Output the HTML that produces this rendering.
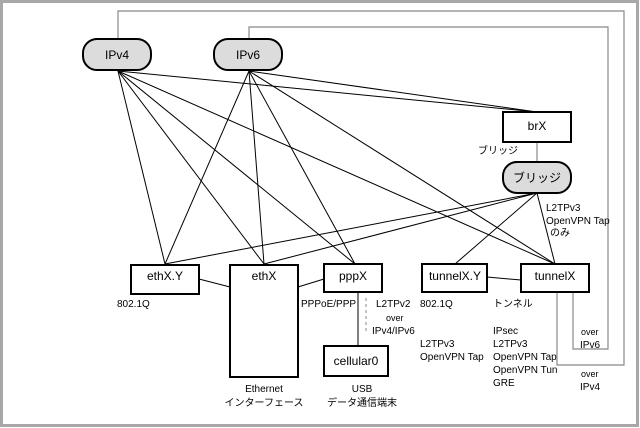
<!DOCTYPE html>
<html><head><meta charset="utf-8"><style>
html,body{margin:0;padding:0;background:#fff}
svg{display:block}
text{font-family:"Liberation Sans","Noto Sans CJK JP",sans-serif;fill:#000}
</style></head><body>
<svg width="640" height="428" viewBox="0 0 640 428" xmlns="http://www.w3.org/2000/svg">
<rect x="0" y="0" width="640" height="428" fill="#fff"/>
<rect x="1.5" y="1.5" width="636" height="424" fill="none" stroke="#a8a8a8" stroke-width="3"/>
<g fill="none" stroke="#888" stroke-width="1.2">
<polyline points="118,39 118,11 624,11 624,365 557,365 557,292"/>
<polyline points="249,39 249,27 608,27 608,349 573,349 573,292"/>
<line x1="537" y1="142" x2="537" y2="162"/>
</g>
<g stroke="#000" stroke-width="1" fill="none">
<line x1="118" y1="71" x2="537" y2="112"/>
<line x1="249" y1="71" x2="537" y2="112"/>
<line x1="118" y1="71" x2="165" y2="264"/>
<line x1="118" y1="71" x2="264" y2="264"/>
<line x1="118" y1="71" x2="355" y2="264"/>
<line x1="118" y1="71" x2="555" y2="264"/>
<line x1="249" y1="71" x2="165" y2="264"/>
<line x1="249" y1="71" x2="264" y2="264"/>
<line x1="249" y1="71" x2="355" y2="264"/>
<line x1="249" y1="71" x2="555" y2="264"/>
<line x1="537" y1="193" x2="165" y2="264"/>
<line x1="537" y1="193" x2="264" y2="264"/>
<line x1="537" y1="193" x2="455" y2="264"/>
<line x1="537" y1="193" x2="555" y2="264"/>
<line x1="199" y1="279" x2="230" y2="287"/>
<line x1="298" y1="287" x2="324" y2="279"/>
<line x1="487" y1="277" x2="521" y2="280"/>
<line x1="358" y1="291" x2="358" y2="346"/>
</g>
<line x1="366" y1="298" x2="366" y2="331" stroke="#888" stroke-width="1" stroke-dasharray="3,3"/>
<g stroke="#000" stroke-width="2" fill="#dcdcdc">
<rect x="83" y="39" width="68" height="31" rx="14"/>
<rect x="214" y="39" width="68" height="31" rx="14"/>
<rect x="503" y="162" width="68" height="31" rx="14"/>
</g>
<g stroke="#000" stroke-width="2" fill="#fff">
<rect x="503" y="112" width="68" height="30"/>
<rect x="131" y="265" width="68" height="29"/>
<rect x="230" y="265" width="68" height="112"/>
<rect x="324" y="264" width="58" height="28"/>
<rect x="324" y="346" width="64" height="30"/>
<rect x="422" y="264" width="65" height="28"/>
<rect x="521" y="264" width="68" height="28"/>
</g>
<g font-size="12" text-anchor="middle">
<text x="117" y="59">IPv4</text>
<text x="248" y="59">IPv6</text>
<text x="537" y="130">brX</text>
<text x="537" y="182">ブリッジ</text>
<text x="165" y="280">ethX.Y</text>
<text x="264" y="280">ethX</text>
<text x="353" y="280">pppX</text>
<text x="356" y="365">cellular0</text>
<text x="455" y="280">tunnelX.Y</text>
<text x="555" y="280">tunnelX</text>
</g>
<g font-size="10">
<text x="478" y="154">ブリッジ</text>
<text x="546" y="211">L2TPv3</text>
<text x="546" y="224">OpenVPN Tap</text>
<text x="550" y="236">のみ</text>
<text x="117" y="307">802.1Q</text>
<text x="301" y="307">PPPoE/PPP</text>
<text x="376" y="307">L2TPv2</text>
<text x="386" y="321" font-size="9">over</text>
<text x="372" y="334">IPv4/IPv6</text>
<text x="420" y="307">802.1Q</text>
<text x="493" y="307">トンネル</text>
<text x="420" y="347">L2TPv3</text>
<text x="420" y="360">OpenVPN Tap</text>
<text x="493" y="334">IPsec</text>
<text x="493" y="347">L2TPv3</text>
<text x="493" y="360">OpenVPN Tap</text>
<text x="493" y="373">OpenVPN Tun</text>
<text x="493" y="386">GRE</text>
<text x="581" y="335" font-size="9">over</text>
<text x="580" y="348">IPv6</text>
<text x="581" y="377" font-size="9">over</text>
<text x="580" y="390">IPv4</text>
</g>
<g font-size="10" text-anchor="middle">
<text x="264" y="392">Ethernet</text>
<text x="264" y="406">インターフェース</text>
<text x="362" y="392">USB</text>
<text x="362" y="406">データ通信端末</text>
</g>
</svg>
</body></html>
